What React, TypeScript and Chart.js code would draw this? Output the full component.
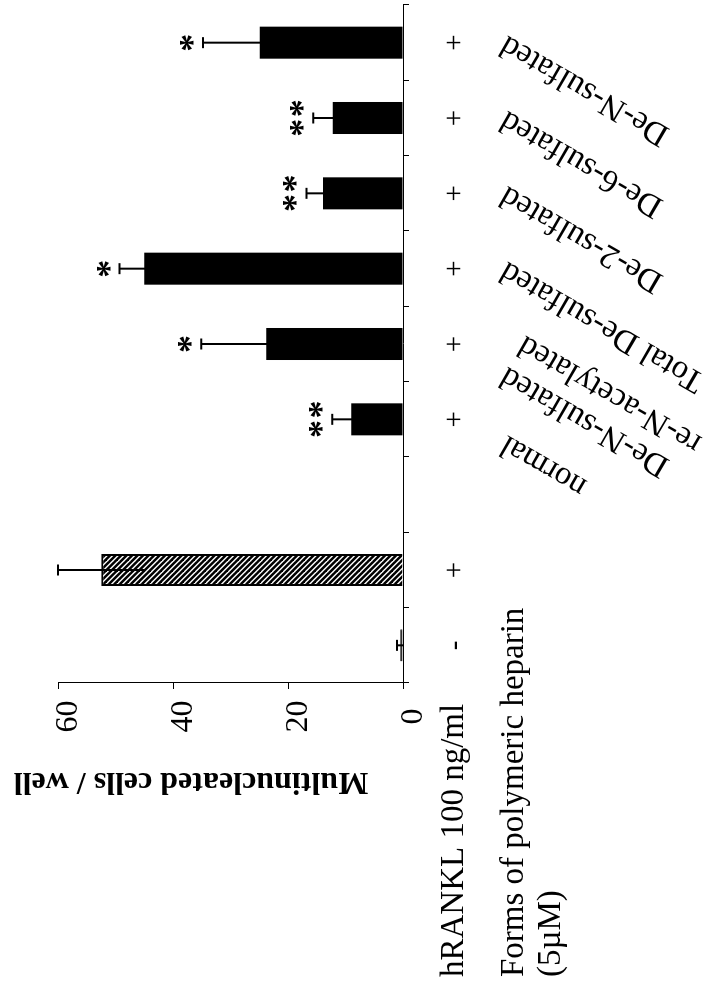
import { useEffect, useRef } from "react";
import Chart from "chart.js/auto";

// categories from left to right (the figure is printed turned a quarter turn)
const heparinForms = [
  "",
  "",
  "",
  "normal",
  ["De-N-sulfated", "re-N-acetylated"],
  "Total De-sulfated",
  "De-2-sulfated",
  "De-6-sulfated",
  "De-N-sulfated",
];
const rankl = ["-", "+", "", "+", "+", "+", "+", "+", "+"];
const cells = [0.5, 52.5, null, 9, 23.8, 45, 13.9, 12.2, 24.9];
const cellsErr = [0.55, 7.5, null, 3.3, 11.3, 4.3, 2.9, 3.4, 9.9];
const stars = ["", "", "", "**", "*", "*", "**", "**", "*"];
const yTicks = [0, 20, 40, 60];

const yTitle = "Multinucleated cells / well";
const rowTitle = "hRANKL 100 ng/ml";
const formsTitle = ["Forms of polymeric heparin", "(5\u00b5M)"];

const SERIF = "'Liberation Serif', 'Times New Roman', serif";
// small shifts of the slanted labels along the category axis, as in the print
const labelNudge = [0, 0, 0, -23, -30, 0, 0, 0, 0];

function makeHatch() {
  const c = document.createElement("canvas");
  c.width = 11;
  c.height = 11;
  const g = c.getContext("2d") as CanvasRenderingContext2D;
  g.fillStyle = "#fff";
  g.fillRect(0, 0, 11, 11);
  g.strokeStyle = "#000";
  g.lineWidth = 2.5;
  for (let k = -2; k <= 2; k++) {
    g.beginPath();
    g.moveTo(k * 5.5 - 1, -1);
    g.lineTo(k * 5.5 + 12, 12);
    g.stroke();
  }
  return g.createPattern(c, "repeat");
}

const errorBars = {
  id: "errorBars",
  afterDatasetsDraw: (chart: any) => {
    const {
      ctx,
      scales: { x, y },
    } = chart;
    ctx.save();
    ctx.strokeStyle = "#000";
    ctx.fillStyle = "#000";
    ctx.lineWidth = 2;
    ctx.font = `bold 36px ${SERIF}`;
    ctx.textAlign = "left";
    ctx.textBaseline = "alphabetic";
    cells.forEach((v, i) => {
      if (v === null) return;
      const e = cellsErr[i] as number;
      const px = x.getPixelForValue(i);
      const top = y.getPixelForValue(v + e);
      const bottom = y.getPixelForValue(Math.max(v - e, 0));
      ctx.beginPath();
      ctx.moveTo(px, bottom);
      ctx.lineTo(px, top);
      ctx.moveTo(px - 5.5, top);
      ctx.lineTo(px + 5.5, top);
      ctx.stroke();

      const s = stars[i];
      if (!s) return;
      const m = ctx.measureText("*");
      const w = m.actualBoundingBoxLeft + m.actualBoundingBoxRight;
      const h = m.actualBoundingBoxAscent + m.actualBoundingBoxDescent;
      const cy = top - 16;
      const offs = s.length === 2 ? [-9.75, 9.75] : [0];
      offs.forEach((dx) => {
        ctx.fillText(
          "*",
          px + dx - w / 2 + m.actualBoundingBoxLeft,
          cy - h / 2 + m.actualBoundingBoxAscent
        );
      });
    });
    ctx.restore();
  },
};

const sideTexts = {
  id: "sideTexts",
  afterDraw: (chart: any) => {
    const {
      ctx,
      chartArea,
      scales: { x },
    } = chart;

    // value axis title
    ctx.save();
    ctx.fillStyle = "#000";
    ctx.translate(chartArea.left - 98, chartArea.top + 133);
    ctx.rotate(-Math.PI / 2);
    ctx.font = `bold 32px ${SERIF}`;
    ctx.textAlign = "center";
    ctx.textBaseline = "middle";
    ctx.fillText(yTitle, 0, 0);
    ctx.restore();

    // row headings at the left
    ctx.save();
    ctx.fillStyle = "#000";
    ctx.font = `33px ${SERIF}`;
    ctx.textAlign = "left";
    ctx.textBaseline = "alphabetic";
    ctx.fillText(rowTitle, 13, chartArea.bottom + 59.5);
    ctx.fillText(formsTitle[0], 13, chartArea.bottom + 120);
    ctx.fillText(formsTitle[1], 13, chartArea.bottom + 157);
    ctx.restore();

    // slanted names of the heparin forms
    ctx.save();
    ctx.fillStyle = "#000";
    ctx.font = `33px ${SERIF}`;
    ctx.textAlign = "right";
    ctx.textBaseline = "middle";
    const lh = 36;
    heparinForms.forEach((lbl, i) => {
      const lines = Array.isArray(lbl) ? lbl : [lbl];
      if (!lines[0]) return;
      ctx.save();
      ctx.translate(x.getPixelForValue(i) + labelNudge[i], chartArea.bottom + 100);
      ctx.rotate(-Math.PI / 3);
      lines.forEach((t, k) => ctx.fillText(t, 0, k * lh));
      ctx.restore();
    });
    ctx.restore();
  },
};

export default function App() {
  const chartRef = useRef<HTMLCanvasElement>(null);
  const chartInstance = useRef<Chart | null>(null);

  useEffect(() => {
    if (chartInstance.current) chartInstance.current.destroy();
    const ctx = (chartRef.current as HTMLCanvasElement).getContext("2d") as CanvasRenderingContext2D;
    const hatch = makeHatch();

    Chart.defaults.font.family = SERIF;
    Chart.defaults.color = "#000";

    chartInstance.current = new Chart(ctx, {
      type: "bar",
      data: {
        labels: rankl,
        datasets: [
          {
            label: yTitle,
            data: cells as any,
            backgroundColor: cells.map((_, i) => (i === 1 ? hatch : "#000")) as any,
            borderColor: "#000",
            borderWidth: cells.map((_, i) => (i === 1 ? 2 : i === 0 ? 1 : 0)),
            categoryPercentage: 1,
            barPercentage: 0.425,
          },
        ],
      },
      options: {
        responsive: false,
        animation: false,
        layout: { padding: { top: 58, right: 5, left: 0, bottom: 0 } },
        plugins: {
          legend: { display: false },
          title: { display: false },
          tooltip: { enabled: false },
        },
        scales: {
          x: {
            type: "category",
            position: "bottom",
            offset: true,
            grid: {
              display: true,
              offset: true,
              drawOnChartArea: false,
              drawTicks: true,
              tickLength: 6,
              color: "#000",
              lineWidth: 1,
            },
            border: { display: true, color: "#000", width: 1 },
            ticks: {
              autoSkip: false,
              maxRotation: 0,
              minRotation: 0,
              padding: 29,
              color: "#000",
              font: { size: 29 },
            },
            afterFit: (s: any) => {
              s.height = 301;
              s.paddingLeft = 0;
              s.paddingRight = 0;
            },
          },
          y: {
            min: 0,
            max: 60,
            grid: {
              display: true,
              drawOnChartArea: false,
              drawTicks: true,
              tickLength: 6,
              color: "#000",
              lineWidth: 1,
            },
            border: { display: true, color: "#000", width: 1 },
            afterBuildTicks: (s: any) => {
              s.ticks = yTicks.map((v) => ({ value: v }));
            },
            ticks: {
              crossAlign: "center",
              padding: 11.5,
              labelOffset: 10.5,
              color: "#000",
              font: { size: 32 },
            },
            afterFit: (s: any) => {
              s.width = 307;
              s.paddingTop = 0;
              s.paddingBottom = 0;
            },
          },
        },
      },
      plugins: [errorBars, sideTexts],
    });

    return () => {
      if (chartInstance.current) {
        chartInstance.current.destroy();
        chartInstance.current = null;
      }
    };
  }, []);

  return (
    <div
      style={{
        position: "fixed",
        left: 0,
        top: 0,
        width: 704,
        height: 990,
        overflow: "hidden",
        background: "#fff",
      }}
    >
      <div
        style={{
          position: "absolute",
          left: 0,
          top: 0,
          width: 990,
          height: 704,
          transformOrigin: "0 0",
          transform: "translateY(990px) rotate(-90deg)",
        }}
      >
        <canvas ref={chartRef} width={990} height={704} style={{ display: "block" }} />
      </div>
    </div>
  );
}
